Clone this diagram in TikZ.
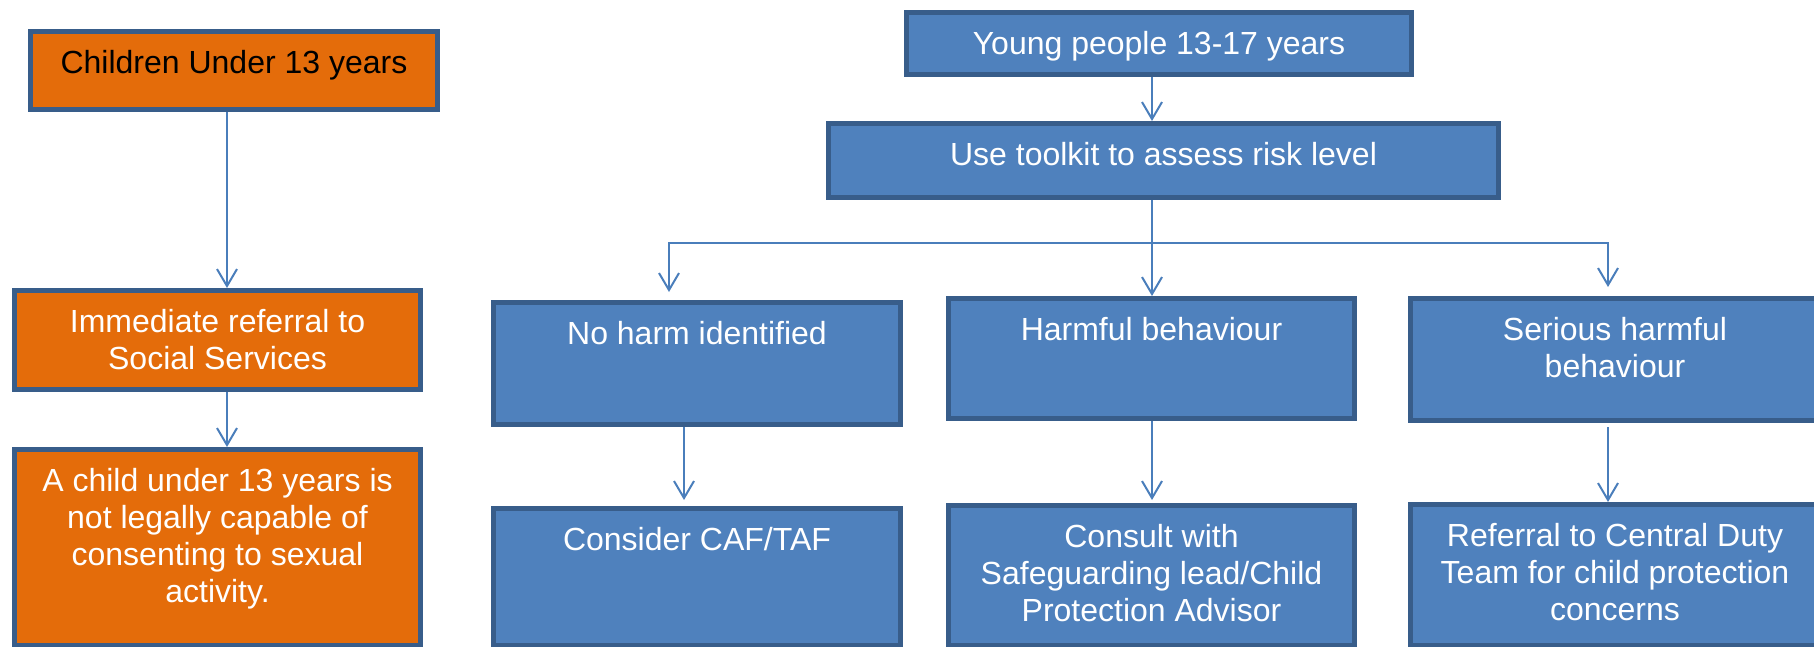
\documentclass[tikz,border=0pt]{standalone}
\usepackage{fontspec}
\setmainfont{Liberation Sans}
\usetikzlibrary{arrows.meta,calc}
\definecolor{bfill}{HTML}{4F81BD}
\definecolor{bdraw}{HTML}{385D8A}
\definecolor{ofill}{HTML}{E46C0A}
\definecolor{conn}{HTML}{4A7EBB}
\tikzset{
 box/.style={draw=bdraw, line width=5pt, inner sep=0pt, outer sep=2.5pt, rectangle},
 bluebox/.style={box, fill=bfill},
 orangebox/.style={box, fill=ofill},
 txt/.style={font=\fontsize{32}{37}\selectfont, align=center, inner sep=0pt, anchor=north, text=white},
 arr/.style={draw=conn, line width=2pt, -{Straight Barb[length=17pt,width=20pt]}},
}
\begin{document}
\begin{tikzpicture}[x=1pt,y=-1pt]
\useasboundingbox (0,0) rectangle (1814,646);
\clip (0,0) rectangle (1814,646);
% left column
\node[orangebox, minimum width=407pt, minimum height=78pt] (A) at (234,70.5) {};
\node[orangebox, minimum width=406pt, minimum height=99pt] (B) at (217.5,340) {};
\node[orangebox, minimum width=406pt, minimum height=196pt] (C) at (217.5,547.5) {};
% right part
\node[bluebox, minimum width=505pt, minimum height=62pt] (D) at (1159,43.5) {};
\node[bluebox, minimum width=670pt, minimum height=74pt] (E) at (1163.5,160.5) {};
\node[bluebox, minimum width=407pt, minimum height=122pt] (F) at (697,363.5) {};
\node[bluebox, minimum width=406pt, minimum height=120pt] (G) at (1151.5,358.5) {};
\node[bluebox, minimum width=409pt, minimum height=122pt] (H) at (1615,359.5) {};
\node[bluebox, minimum width=407pt, minimum height=137pt] (I) at (697,577) {};
\node[bluebox, minimum width=406pt, minimum height=140pt] (J) at (1151.5,575.5) {};
\node[bluebox, minimum width=409pt, minimum height=141pt] (K) at (1615,575) {};
% texts
\node[txt, text=black] (At) at ([yshift=-18.1pt]A.north) {\strut Children Under 13 years};
\node[txt] (Bt) at ([yshift=-18.1pt]B.north) {\strut Immediate referral to\\Social Services};
\node[txt] (Ct) at ([yshift=-18.1pt]C.north) {\strut A child under 13 years is\\not legally capable of\\consenting to sexual\\activity.};
\node[txt] (Dt) at ([yshift=-18.1pt]D.north) {\strut Young people 13-17 years};
\node[txt] (Et) at ([yshift=-18.1pt]E.north) {\strut Use toolkit to assess risk level};
\node[txt] (Ft) at ([yshift=-18.1pt]F.north) {\strut No harm identified};
\node[txt] (Gt) at ([yshift=-18.1pt]G.north) {\strut Harmful behaviour};
\node[txt] (Ht) at ([yshift=-18.1pt]H.north) {\strut Serious harmful\\behaviour};
\node[txt] (It) at ([yshift=-18.1pt]I.north) {\strut Consider CAF/TAF};
\node[txt] (Jt) at ([yshift=-18.1pt]J.north) {\strut Consult with\\Safeguarding lead/Child\\Protection Advisor};
\node[txt] (Kt) at ([yshift=-18.1pt]K.north) {\strut Referral to Central Duty\\Team for child protection\\concerns};
% helper coordinates
\coordinate (lx) at (227,0);
\coordinate (mx) at (1152,0);
\coordinate (by) at (0,243);
\coordinate (fx) at (669,0);
\coordinate (hx) at (1608,0);
\coordinate (ix) at (684,0);
% connectors
\draw[arr] (A.south -| lx) -- (B.north -| lx);
\draw[arr] (B.south -| lx) -- (C.north -| lx);
\draw[arr] (D.south -| mx) -- (E.north -| mx);
\draw[arr, shorten >=8pt] (E.south -| mx) -- (mx |- by) -| (F.north -| fx);
\draw[arr] (E.south -| mx) -- (G.north -| mx);
\draw[arr, shorten >=9pt] (E.south -| mx) -- (mx |- by) -| (H.north -| hx);
\draw[arr, shorten >=6pt] (F.south -| ix) -- (I.north -| ix);
\draw[arr, shorten >=3pt] (G.south -| mx) -- (J.north -| mx);
\draw[arr, shorten <=4pt] (H.south -| hx) -- (K.north -| hx);
\end{tikzpicture}
\end{document}
